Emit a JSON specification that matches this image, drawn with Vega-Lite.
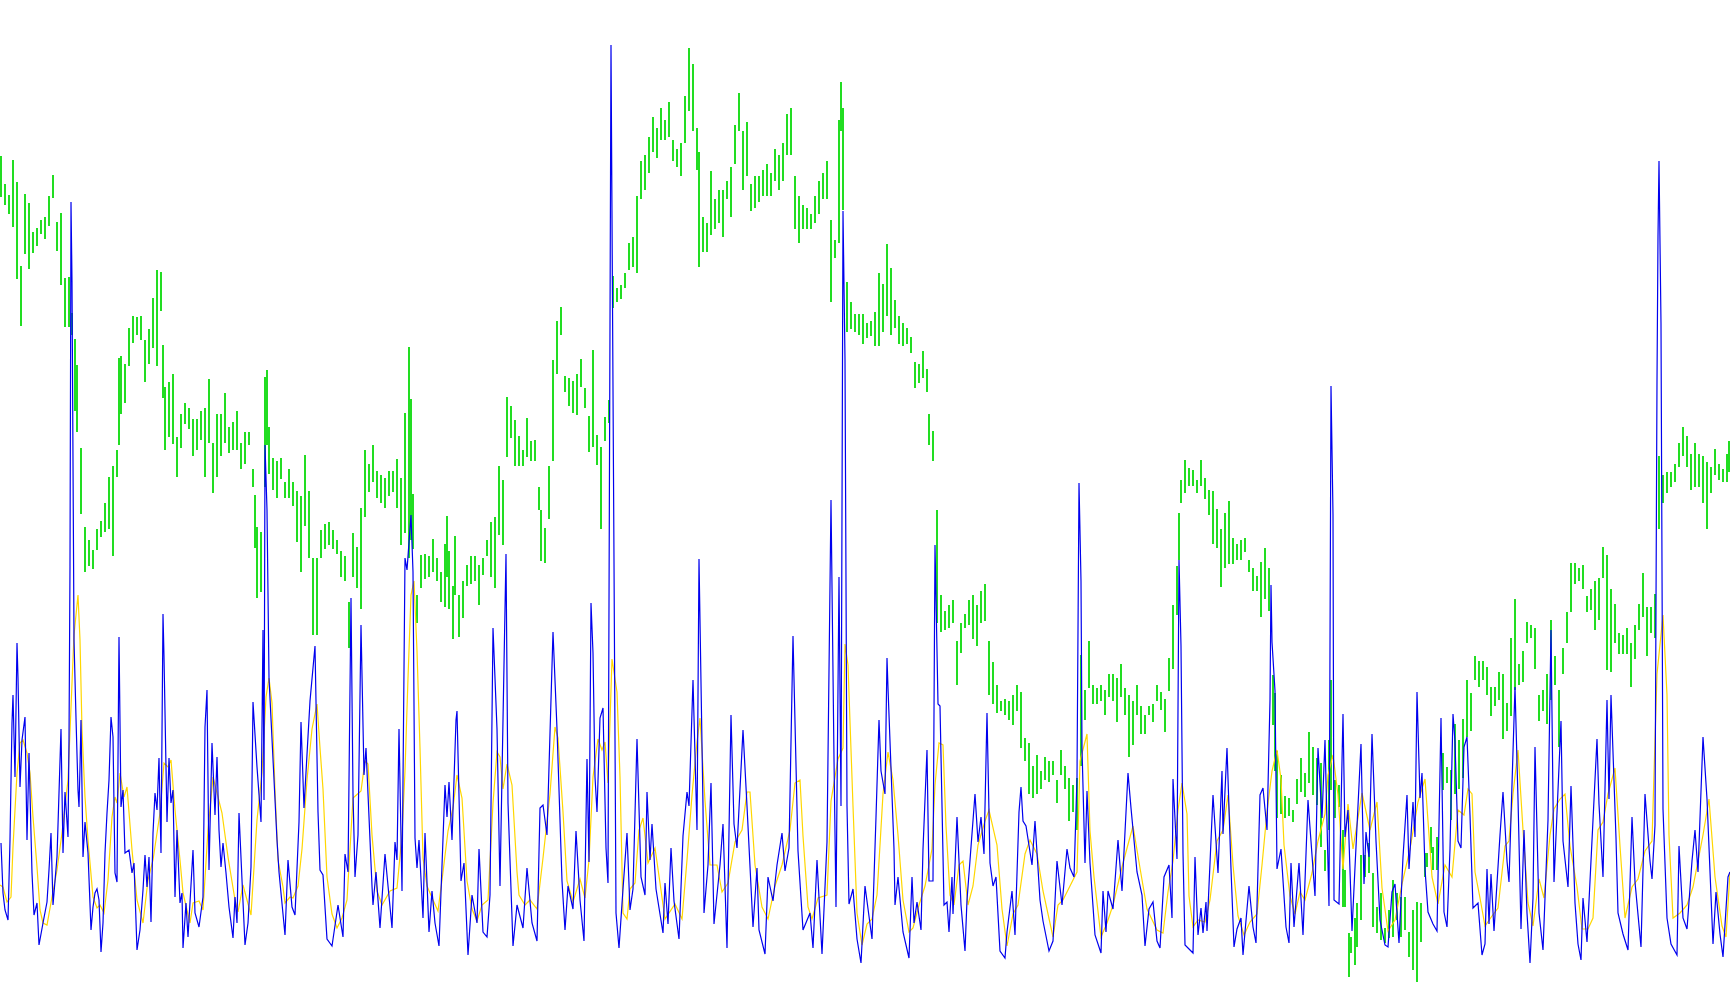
{"$schema":"https://vega.github.io/schema/vega-lite/v6.json","width":1730,"height":1005,"padding":0,"autosize":{"type":"none"},"background":"#ffffff","config":{"view":{"stroke":null}},
"datasets":{"green":[{"x":1,"a":156,"b":197},{"x":5,"a":184,"b":205},{"x":9,"a":195,"b":214},{"x":13,"a":160,"b":227},{"x":17,"a":182,"b":279},{"x":21,"a":266,"b":326},{"x":25,"a":194,"b":254},{"x":29,"a":203,"b":269},{"x":33,"a":232,"b":253},{"x":37,"a":228,"b":246},{"x":41,"a":220,"b":234},{"x":45,"a":217,"b":239},{"x":49,"a":196,"b":226},{"x":53,"a":175,"b":198},{"x":57,"a":222,"b":251},{"x":61,"a":213,"b":285},{"x":65,"a":278,"b":327},{"x":69,"a":277,"b":327},{"x":72,"a":313,"b":335},{"x":75,"a":339,"b":411},{"x":77,"a":365,"b":432},{"x":81,"a":448,"b":514},{"x":85,"a":527,"b":572},{"x":89,"a":540,"b":566},{"x":93,"a":550,"b":569},{"x":97,"a":529,"b":550},{"x":101,"a":521,"b":537},{"x":105,"a":503,"b":532},{"x":109,"a":477,"b":529},{"x":113,"a":466,"b":556},{"x":117,"a":450,"b":477},{"x":119,"a":358,"b":445},{"x":121,"a":356,"b":414},{"x":125,"a":364,"b":403},{"x":129,"a":328,"b":366},{"x":133,"a":316,"b":343},{"x":137,"a":317,"b":335},{"x":141,"a":316,"b":340},{"x":145,"a":340,"b":382},{"x":149,"a":329,"b":364},{"x":153,"a":298,"b":348},{"x":157,"a":270,"b":366},{"x":161,"a":272,"b":311},{"x":163,"a":345,"b":398},{"x":165,"a":387,"b":450},{"x":169,"a":382,"b":437},{"x":173,"a":374,"b":444},{"x":177,"a":437,"b":477},{"x":181,"a":414,"b":448},{"x":185,"a":403,"b":424},{"x":189,"a":408,"b":429},{"x":193,"a":419,"b":456},{"x":197,"a":419,"b":450},{"x":201,"a":411,"b":440},{"x":205,"a":408,"b":477},{"x":209,"a":379,"b":443},{"x":213,"a":443,"b":493},{"x":217,"a":414,"b":477},{"x":221,"a":414,"b":456},{"x":225,"a":393,"b":443},{"x":229,"a":427,"b":453},{"x":233,"a":422,"b":450},{"x":237,"a":411,"b":450},{"x":241,"a":443,"b":469},{"x":245,"a":432,"b":464},{"x":249,"a":432,"b":445},{"x":253,"a":469,"b":487},{"x":255,"a":495,"b":548},{"x":257,"a":527,"b":598},{"x":261,"a":532,"b":592},{"x":265,"a":377,"b":487},{"x":267,"a":370,"b":445},{"x":269,"a":427,"b":474},{"x":273,"a":458,"b":490},{"x":277,"a":461,"b":498},{"x":281,"a":458,"b":479},{"x":285,"a":482,"b":498},{"x":289,"a":469,"b":498},{"x":293,"a":482,"b":506},{"x":297,"a":491,"b":542},{"x":301,"a":496,"b":572},{"x":305,"a":455,"b":526},{"x":309,"a":491,"b":558},{"x":313,"a":558,"b":635},{"x":317,"a":558,"b":635},{"x":321,"a":530,"b":558},{"x":325,"a":524,"b":549},{"x":329,"a":522,"b":545},{"x":333,"a":530,"b":549},{"x":337,"a":540,"b":554},{"x":341,"a":551,"b":577},{"x":345,"a":556,"b":581},{"x":349,"a":602,"b":648},{"x":353,"a":533,"b":577},{"x":357,"a":547,"b":588},{"x":361,"a":508,"b":609},{"x":365,"a":450,"b":517},{"x":369,"a":464,"b":492},{"x":373,"a":445,"b":482},{"x":377,"a":471,"b":498},{"x":381,"a":475,"b":503},{"x":385,"a":478,"b":508},{"x":389,"a":471,"b":496},{"x":393,"a":471,"b":492},{"x":397,"a":459,"b":508},{"x":401,"a":478,"b":545},{"x":405,"a":413,"b":533},{"x":409,"a":347,"b":558},{"x":411,"a":399,"b":540},{"x":413,"a":494,"b":549},{"x":417,"a":595,"b":623},{"x":421,"a":555,"b":588},{"x":425,"a":554,"b":579},{"x":429,"a":556,"b":577},{"x":433,"a":539,"b":572},{"x":437,"a":558,"b":581},{"x":441,"a":572,"b":602},{"x":445,"a":544,"b":607},{"x":447,"a":516,"b":577},{"x":449,"a":551,"b":609},{"x":453,"a":586,"b":639},{"x":455,"a":536,"b":595},{"x":459,"a":595,"b":637},{"x":463,"a":581,"b":618},{"x":467,"a":565,"b":586},{"x":471,"a":556,"b":584},{"x":475,"a":556,"b":581},{"x":479,"a":565,"b":605},{"x":483,"a":558,"b":575},{"x":487,"a":540,"b":556},{"x":491,"a":522,"b":577},{"x":495,"a":517,"b":588},{"x":499,"a":466,"b":535},{"x":503,"a":480,"b":545},{"x":507,"a":397,"b":457},{"x":511,"a":406,"b":438},{"x":515,"a":420,"b":466},{"x":519,"a":436,"b":466},{"x":523,"a":450,"b":466},{"x":527,"a":418,"b":457},{"x":531,"a":441,"b":461},{"x":535,"a":440,"b":461},{"x":539,"a":487,"b":510},{"x":541,"a":510,"b":561},{"x":545,"a":528,"b":563},{"x":549,"a":466,"b":519},{"x":553,"a":360,"b":461},{"x":557,"a":321,"b":374},{"x":561,"a":307,"b":335},{"x":565,"a":376,"b":392},{"x":569,"a":378,"b":406},{"x":573,"a":381,"b":413},{"x":577,"a":374,"b":415},{"x":581,"a":359,"b":387},{"x":585,"a":388,"b":408},{"x":589,"a":416,"b":452},{"x":593,"a":350,"b":447},{"x":597,"a":435,"b":465},{"x":601,"a":447,"b":529},{"x":605,"a":417,"b":441},{"x":609,"a":400,"b":423},{"x":613,"a":276,"b":308},{"x":617,"a":288,"b":302},{"x":621,"a":285,"b":299},{"x":625,"a":273,"b":288},{"x":629,"a":243,"b":270},{"x":633,"a":237,"b":267},{"x":637,"a":196,"b":273},{"x":641,"a":161,"b":199},{"x":645,"a":155,"b":190},{"x":649,"a":137,"b":173},{"x":653,"a":117,"b":152},{"x":657,"a":128,"b":158},{"x":661,"a":108,"b":140},{"x":665,"a":120,"b":140},{"x":669,"a":102,"b":137},{"x":673,"a":140,"b":161},{"x":677,"a":149,"b":167},{"x":681,"a":143,"b":176},{"x":685,"a":96,"b":143},{"x":689,"a":48,"b":111},{"x":693,"a":64,"b":131},{"x":697,"a":128,"b":170},{"x":699,"a":152,"b":267},{"x":703,"a":217,"b":252},{"x":707,"a":223,"b":252},{"x":711,"a":171,"b":235},{"x":715,"a":199,"b":229},{"x":719,"a":190,"b":223},{"x":723,"a":190,"b":237},{"x":727,"a":181,"b":199},{"x":731,"a":167,"b":217},{"x":735,"a":125,"b":164},{"x":739,"a":93,"b":131},{"x":743,"a":131,"b":190},{"x":747,"a":122,"b":176},{"x":751,"a":184,"b":211},{"x":755,"a":176,"b":208},{"x":759,"a":176,"b":202},{"x":763,"a":170,"b":196},{"x":767,"a":164,"b":196},{"x":771,"a":173,"b":196},{"x":775,"a":149,"b":181},{"x":779,"a":155,"b":190},{"x":783,"a":143,"b":181},{"x":787,"a":114,"b":155},{"x":791,"a":108,"b":155},{"x":795,"a":176,"b":229},{"x":799,"a":196,"b":243},{"x":803,"a":205,"b":229},{"x":807,"a":208,"b":229},{"x":811,"a":214,"b":229},{"x":815,"a":196,"b":223},{"x":819,"a":181,"b":214},{"x":823,"a":173,"b":199},{"x":827,"a":161,"b":199},{"x":831,"a":220,"b":302},{"x":835,"a":240,"b":258},{"x":839,"a":120,"b":243},{"x":841,"a":82,"b":131},{"x":843,"a":108,"b":210},{"x":847,"a":282,"b":332},{"x":851,"a":302,"b":329},{"x":855,"a":314,"b":332},{"x":859,"a":314,"b":335},{"x":863,"a":314,"b":344},{"x":867,"a":323,"b":338},{"x":871,"a":321,"b":336},{"x":875,"a":312,"b":346},{"x":879,"a":273,"b":346},{"x":883,"a":284,"b":332},{"x":887,"a":244,"b":316},{"x":891,"a":268,"b":335},{"x":895,"a":300,"b":328},{"x":899,"a":316,"b":344},{"x":903,"a":323,"b":346},{"x":907,"a":328,"b":344},{"x":911,"a":337,"b":353},{"x":915,"a":362,"b":388},{"x":919,"a":364,"b":383},{"x":923,"a":351,"b":378},{"x":927,"a":369,"b":392},{"x":929,"a":414,"b":445},{"x":933,"a":431,"b":461},{"x":937,"a":510,"b":623},{"x":941,"a":595,"b":632},{"x":945,"a":611,"b":630},{"x":949,"a":605,"b":628},{"x":953,"a":600,"b":623},{"x":957,"a":641,"b":685},{"x":961,"a":623,"b":653},{"x":965,"a":614,"b":628},{"x":969,"a":600,"b":625},{"x":973,"a":595,"b":639},{"x":977,"a":605,"b":646},{"x":981,"a":591,"b":623},{"x":985,"a":584,"b":621},{"x":989,"a":641,"b":695},{"x":993,"a":662,"b":704},{"x":997,"a":685,"b":713},{"x":1001,"a":701,"b":711},{"x":1005,"a":699,"b":715},{"x":1009,"a":701,"b":720},{"x":1013,"a":695,"b":725},{"x":1017,"a":685,"b":711},{"x":1021,"a":692,"b":748},{"x":1025,"a":738,"b":761},{"x":1029,"a":743,"b":794},{"x":1033,"a":766,"b":798},{"x":1037,"a":755,"b":794},{"x":1041,"a":771,"b":789},{"x":1045,"a":757,"b":780},{"x":1049,"a":761,"b":782},{"x":1053,"a":761,"b":775},{"x":1057,"a":780,"b":803},{"x":1061,"a":750,"b":775},{"x":1065,"a":766,"b":789},{"x":1069,"a":778,"b":821},{"x":1073,"a":785,"b":812},{"x":1077,"a":778,"b":830},{"x":1081,"a":655,"b":766},{"x":1085,"a":690,"b":720},{"x":1089,"a":641,"b":688},{"x":1093,"a":685,"b":704},{"x":1097,"a":688,"b":704},{"x":1101,"a":685,"b":701},{"x":1105,"a":690,"b":715},{"x":1109,"a":674,"b":697},{"x":1113,"a":674,"b":701},{"x":1117,"a":678,"b":722},{"x":1121,"a":664,"b":697},{"x":1125,"a":688,"b":715},{"x":1129,"a":695,"b":757},{"x":1133,"a":701,"b":745},{"x":1137,"a":685,"b":715},{"x":1141,"a":706,"b":734},{"x":1145,"a":715,"b":734},{"x":1149,"a":706,"b":715},{"x":1153,"a":704,"b":722},{"x":1157,"a":685,"b":701},{"x":1161,"a":692,"b":710},{"x":1165,"a":699,"b":732},{"x":1169,"a":658,"b":691},{"x":1173,"a":605,"b":669},{"x":1177,"a":566,"b":615},{"x":1179,"a":513,"b":560},{"x":1181,"a":480,"b":503},{"x":1185,"a":460,"b":493},{"x":1189,"a":468,"b":486},{"x":1193,"a":470,"b":486},{"x":1197,"a":480,"b":493},{"x":1201,"a":460,"b":486},{"x":1205,"a":478,"b":499},{"x":1209,"a":490,"b":515},{"x":1213,"a":491,"b":544},{"x":1217,"a":509,"b":548},{"x":1221,"a":529,"b":587},{"x":1225,"a":513,"b":568},{"x":1229,"a":501,"b":564},{"x":1233,"a":538,"b":564},{"x":1237,"a":544,"b":560},{"x":1241,"a":540,"b":560},{"x":1245,"a":538,"b":552},{"x":1249,"a":560,"b":572},{"x":1253,"a":568,"b":591},{"x":1257,"a":576,"b":591},{"x":1261,"a":562,"b":617},{"x":1265,"a":548,"b":599},{"x":1269,"a":568,"b":611},{"x":1273,"a":675,"b":725},{"x":1275,"a":693,"b":771},{"x":1277,"a":751,"b":818},{"x":1281,"a":775,"b":814},{"x":1285,"a":796,"b":818},{"x":1289,"a":798,"b":816},{"x":1293,"a":810,"b":822},{"x":1297,"a":779,"b":804},{"x":1301,"a":758,"b":792},{"x":1305,"a":773,"b":797},{"x":1309,"a":732,"b":783},{"x":1313,"a":747,"b":795},{"x":1317,"a":758,"b":805},{"x":1321,"a":763,"b":847},{"x":1325,"a":850,"b":871},{"x":1329,"a":740,"b":830},{"x":1331,"a":680,"b":790},{"x":1335,"a":780,"b":818},{"x":1339,"a":785,"b":807},{"x":1343,"a":830,"b":907},{"x":1345,"a":870,"b":907},{"x":1349,"a":933,"b":977},{"x":1351,"a":937,"b":953},{"x":1355,"a":918,"b":965},{"x":1357,"a":903,"b":947},{"x":1361,"a":855,"b":920},{"x":1365,"a":855,"b":877},{"x":1369,"a":843,"b":873},{"x":1373,"a":873,"b":927},{"x":1377,"a":907,"b":933},{"x":1381,"a":893,"b":940},{"x":1385,"a":928,"b":943},{"x":1389,"a":910,"b":938},{"x":1393,"a":880,"b":937},{"x":1397,"a":893,"b":920},{"x":1401,"a":897,"b":937},{"x":1405,"a":897,"b":930},{"x":1409,"a":932,"b":957},{"x":1413,"a":910,"b":970},{"x":1417,"a":902,"b":982},{"x":1421,"a":903,"b":942},{"x":1425,"a":853,"b":877},{"x":1427,"a":853,"b":867},{"x":1431,"a":827,"b":853},{"x":1433,"a":847,"b":870},{"x":1437,"a":837,"b":870},{"x":1443,"a":753,"b":790},{"x":1447,"a":767,"b":783},{"x":1451,"a":770,"b":820},{"x":1455,"a":724,"b":794},{"x":1459,"a":740,"b":789},{"x":1463,"a":719,"b":778},{"x":1467,"a":680,"b":737},{"x":1471,"a":693,"b":731},{"x":1475,"a":656,"b":680},{"x":1479,"a":661,"b":687},{"x":1483,"a":661,"b":680},{"x":1487,"a":667,"b":695},{"x":1491,"a":687,"b":716},{"x":1495,"a":687,"b":706},{"x":1499,"a":672,"b":700},{"x":1503,"a":674,"b":739},{"x":1507,"a":703,"b":731},{"x":1511,"a":638,"b":716},{"x":1515,"a":599,"b":690},{"x":1519,"a":664,"b":685},{"x":1523,"a":651,"b":682},{"x":1527,"a":622,"b":643},{"x":1531,"a":625,"b":638},{"x":1535,"a":628,"b":669},{"x":1539,"a":695,"b":721},{"x":1543,"a":690,"b":711},{"x":1547,"a":674,"b":724},{"x":1551,"a":620,"b":700},{"x":1555,"a":656,"b":685},{"x":1559,"a":690,"b":747},{"x":1563,"a":648,"b":674},{"x":1567,"a":612,"b":643},{"x":1571,"a":563,"b":612},{"x":1575,"a":563,"b":584},{"x":1579,"a":568,"b":581},{"x":1583,"a":565,"b":589},{"x":1587,"a":596,"b":612},{"x":1591,"a":589,"b":610},{"x":1595,"a":581,"b":630},{"x":1599,"a":578,"b":620},{"x":1603,"a":547,"b":578},{"x":1607,"a":555,"b":670},{"x":1611,"a":589,"b":672},{"x":1615,"a":604,"b":643},{"x":1619,"a":633,"b":654},{"x":1623,"a":635,"b":654},{"x":1627,"a":628,"b":654},{"x":1631,"a":643,"b":687},{"x":1635,"a":625,"b":659},{"x":1639,"a":604,"b":630},{"x":1643,"a":573,"b":617},{"x":1647,"a":607,"b":656},{"x":1651,"a":607,"b":633},{"x":1655,"a":594,"b":638},{"x":1659,"a":456,"b":529},{"x":1663,"a":475,"b":503},{"x":1667,"a":472,"b":493},{"x":1671,"a":472,"b":487},{"x":1675,"a":464,"b":482},{"x":1679,"a":443,"b":467},{"x":1683,"a":427,"b":456},{"x":1687,"a":436,"b":467},{"x":1691,"a":454,"b":490},{"x":1695,"a":443,"b":487},{"x":1699,"a":454,"b":487},{"x":1703,"a":456,"b":503},{"x":1707,"a":462,"b":529},{"x":1711,"a":467,"b":493},{"x":1715,"a":449,"b":475},{"x":1719,"a":464,"b":480},{"x":1723,"a":469,"b":482},{"x":1727,"a":454,"b":482},{"x":1729,"a":441,"b":472}],
"blue":[{"x":1,"y":843},{"x":3,"y":893},{"x":5,"y":910},{"x":8,"y":920},{"x":10,"y":840},{"x":12,"y":723},{"x":13,"y":695},{"x":15,"y":777},{"x":17,"y":643},{"x":18,"y":678},{"x":20,"y":787},{"x":22,"y":740},{"x":25,"y":717},{"x":27,"y":840},{"x":29,"y":753},{"x":32,"y":873},{"x":34,"y":915},{"x":37,"y":903},{"x":39,"y":945},{"x":43,"y":923},{"x":47,"y":902},{"x":49,"y":870},{"x":51,"y":833},{"x":53,"y":905},{"x":57,"y":857},{"x":61,"y":729},{"x":63,"y":853},{"x":65,"y":792},{"x":68,"y":837},{"x":69,"y":740},{"x":70,"y":566},{"x":71,"y":202},{"x":72,"y":281},{"x":74,"y":640},{"x":76,"y":718},{"x":78,"y":790},{"x":79,"y":807},{"x":80,"y":767},{"x":81,"y":720},{"x":83,"y":857},{"x":85,"y":822},{"x":88,"y":853},{"x":91,"y":930},{"x":93,"y":907},{"x":95,"y":893},{"x":97,"y":889},{"x":99,"y":900},{"x":101,"y":952},{"x":103,"y":923},{"x":105,"y":853},{"x":107,"y":813},{"x":109,"y":780},{"x":111,"y":717},{"x":113,"y":737},{"x":115,"y":873},{"x":117,"y":882},{"x":119,"y":637},{"x":121,"y":807},{"x":123,"y":790},{"x":125,"y":853},{"x":129,"y":850},{"x":132,"y":873},{"x":134,"y":863},{"x":137,"y":950},{"x":140,"y":930},{"x":143,"y":890},{"x":145,"y":855},{"x":147,"y":887},{"x":149,"y":857},{"x":151,"y":922},{"x":153,"y":833},{"x":155,"y":793},{"x":157,"y":810},{"x":159,"y":758},{"x":161,"y":853},{"x":163,"y":614},{"x":164,"y":657},{"x":167,"y":822},{"x":169,"y":758},{"x":171,"y":803},{"x":173,"y":790},{"x":175,"y":897},{"x":177,"y":830},{"x":180,"y":903},{"x":182,"y":893},{"x":183,"y":948},{"x":186,"y":903},{"x":188,"y":937},{"x":193,"y":850},{"x":195,"y":913},{"x":199,"y":927},{"x":203,"y":897},{"x":205,"y":727},{"x":207,"y":690},{"x":209,"y":870},{"x":212,"y":743},{"x":215,"y":815},{"x":217,"y":757},{"x":219,"y":830},{"x":221,"y":867},{"x":223,"y":843},{"x":226,"y":873},{"x":229,"y":907},{"x":233,"y":938},{"x":235,"y":897},{"x":237,"y":923},{"x":239,"y":813},{"x":242,"y":880},{"x":245,"y":945},{"x":248,"y":923},{"x":251,"y":867},{"x":253,"y":702},{"x":257,"y":767},{"x":261,"y":822},{"x":263,"y":630},{"x":264,"y":800},{"x":265,"y":445},{"x":267,"y":510},{"x":269,"y":678},{"x":277,"y":840},{"x":279,"y":872},{"x":285,"y":935},{"x":288,"y":860},{"x":292,"y":907},{"x":295,"y":915},{"x":299,"y":822},{"x":301,"y":722},{"x":304,"y":808},{"x":310,"y":701},{"x":315,"y":646},{"x":318,"y":812},{"x":320,"y":870},{"x":323,"y":875},{"x":327,"y":939},{"x":332,"y":946},{"x":338,"y":905},{"x":343,"y":937},{"x":345,"y":854},{"x":348,"y":872},{"x":351,"y":598},{"x":353,"y":794},{"x":355,"y":877},{"x":358,"y":835},{"x":361,"y":625},{"x":364,"y":775},{"x":366,"y":748},{"x":372,"y":886},{"x":373,"y":905},{"x":376,"y":872},{"x":380,"y":928},{"x":385,"y":854},{"x":392,"y":928},{"x":395,"y":842},{"x":397,"y":860},{"x":399,"y":729},{"x":402,"y":891},{"x":405,"y":558},{"x":407,"y":570},{"x":411,"y":515},{"x":413,"y":572},{"x":415,"y":838},{"x":417,"y":868},{"x":419,"y":840},{"x":423,"y":918},{"x":425,"y":833},{"x":429,"y":932},{"x":432,"y":891},{"x":435,"y":923},{"x":439,"y":946},{"x":445,"y":785},{"x":447,"y":817},{"x":449,"y":782},{"x":452,"y":840},{"x":456,"y":720},{"x":457,"y":711},{"x":461,"y":881},{"x":464,"y":863},{"x":468,"y":955},{"x":472,"y":895},{"x":477,"y":923},{"x":479,"y":849},{"x":483,"y":932},{"x":487,"y":937},{"x":490,"y":895},{"x":493,"y":628},{"x":497,"y":729},{"x":500,"y":886},{"x":506,"y":554},{"x":508,"y":803},{"x":513,"y":946},{"x":517,"y":905},{"x":523,"y":928},{"x":527,"y":868},{"x":532,"y":923},{"x":537,"y":941},{"x":540,"y":808},{"x":543,"y":805},{"x":547,"y":835},{"x":553,"y":632},{"x":557,"y":729},{"x":562,"y":881},{"x":565,"y":930},{"x":568,"y":886},{"x":573,"y":909},{"x":576,"y":831},{"x":580,"y":900},{"x":584,"y":941},{"x":587,"y":759},{"x":589,"y":862},{"x":591,"y":603},{"x":593,"y":653},{"x":595,"y":777},{"x":597,"y":812},{"x":600,"y":718},{"x":603,"y":708},{"x":606,"y":848},{"x":608,"y":883},{"x":611,"y":45},{"x":612,"y":217},{"x":614,"y":562},{"x":616,"y":913},{"x":619,"y":948},{"x":623,"y":889},{"x":627,"y":833},{"x":630,"y":910},{"x":633,"y":889},{"x":637,"y":739},{"x":641,"y":877},{"x":645,"y":895},{"x":647,"y":792},{"x":650,"y":860},{"x":652,"y":824},{"x":656,"y":889},{"x":663,"y":933},{"x":665,"y":883},{"x":668,"y":924},{"x":671,"y":848},{"x":674,"y":901},{"x":679,"y":939},{"x":683,"y":836},{"x":687,"y":792},{"x":689,"y":806},{"x":693,"y":680},{"x":697,"y":830},{"x":699,"y":559},{"x":703,"y":806},{"x":704,"y":913},{"x":708,"y":865},{"x":711,"y":783},{"x":714,"y":924},{"x":720,"y":865},{"x":723,"y":824},{"x":727,"y":948},{"x":731,"y":715},{"x":734,"y":824},{"x":737,"y":848},{"x":743,"y":730},{"x":747,"y":806},{"x":753,"y":927},{"x":757,"y":868},{"x":759,"y":930},{"x":765,"y":954},{"x":768,"y":877},{"x":773,"y":901},{"x":777,"y":865},{"x":782,"y":833},{"x":785,"y":871},{"x":789,"y":848},{"x":793,"y":636},{"x":798,"y":851},{"x":803,"y":930},{"x":810,"y":913},{"x":813,"y":948},{"x":817,"y":860},{"x":822,"y":954},{"x":827,"y":842},{"x":831,"y":500},{"x":834,"y":759},{"x":836,"y":907},{"x":839,"y":577},{"x":841,"y":806},{"x":843,"y":211},{"x":845,"y":360},{"x":847,"y":806},{"x":849,"y":904},{"x":853,"y":889},{"x":857,"y":939},{"x":861,"y":963},{"x":865,"y":886},{"x":872,"y":939},{"x":876,"y":817},{"x":879,"y":720},{"x":881,"y":771},{"x":885,"y":794},{"x":887,"y":658},{"x":888,"y":688},{"x":891,"y":768},{"x":894,"y":849},{"x":895,"y":905},{"x":898,"y":877},{"x":903,"y":932},{"x":909,"y":958},{"x":912,"y":877},{"x":914,"y":923},{"x":917,"y":902},{"x":921,"y":930},{"x":923,"y":849},{"x":927,"y":750},{"x":929,"y":881},{"x":933,"y":881},{"x":935,"y":545},{"x":938,"y":704},{"x":940,"y":706},{"x":944,"y":905},{"x":947,"y":902},{"x":949,"y":932},{"x":952,"y":877},{"x":953,"y":914},{"x":957,"y":817},{"x":961,"y":905},{"x":965,"y":951},{"x":967,"y":900},{"x":975,"y":794},{"x":978,"y":842},{"x":981,"y":817},{"x":984,"y":854},{"x":987,"y":713},{"x":990,"y":863},{"x":993,"y":886},{"x":996,"y":877},{"x":1000,"y":951},{"x":1005,"y":958},{"x":1007,"y":932},{"x":1012,"y":891},{"x":1015,"y":935},{"x":1019,"y":812},{"x":1021,"y":787},{"x":1023,"y":821},{"x":1026,"y":826},{"x":1032,"y":865},{"x":1035,"y":821},{"x":1040,"y":900},{"x":1043,"y":921},{"x":1049,"y":951},{"x":1053,"y":941},{"x":1057,"y":861},{"x":1062,"y":905},{"x":1067,"y":849},{"x":1070,"y":868},{"x":1074,"y":877},{"x":1077,"y":778},{"x":1079,"y":483},{"x":1081,"y":581},{"x":1082,"y":748},{"x":1085,"y":863},{"x":1087,"y":791},{"x":1090,"y":863},{"x":1095,"y":935},{"x":1101,"y":953},{"x":1103,"y":891},{"x":1106,"y":932},{"x":1108,"y":891},{"x":1113,"y":909},{"x":1118,"y":840},{"x":1122,"y":891},{"x":1128,"y":773},{"x":1131,"y":808},{"x":1137,"y":872},{"x":1142,"y":895},{"x":1145,"y":946},{"x":1149,"y":909},{"x":1153,"y":902},{"x":1157,"y":941},{"x":1160,"y":948},{"x":1164,"y":877},{"x":1169,"y":865},{"x":1172,"y":918},{"x":1173,"y":779},{"x":1177,"y":859},{"x":1179,"y":560},{"x":1181,"y":646},{"x":1183,"y":853},{"x":1185,"y":945},{"x":1193,"y":953},{"x":1195,"y":857},{"x":1198,"y":935},{"x":1201,"y":908},{"x":1203,"y":933},{"x":1206,"y":902},{"x":1207,"y":931},{"x":1213,"y":795},{"x":1218,"y":873},{"x":1222,"y":771},{"x":1223,"y":834},{"x":1227,"y":748},{"x":1231,"y":869},{"x":1234,"y":947},{"x":1237,"y":929},{"x":1241,"y":918},{"x":1243,"y":955},{"x":1249,"y":886},{"x":1253,"y":927},{"x":1256,"y":943},{"x":1260,"y":795},{"x":1263,"y":788},{"x":1267,"y":830},{"x":1270,"y":700},{"x":1271,"y":585},{"x":1272,"y":642},{"x":1275,"y":691},{"x":1277,"y":869},{"x":1281,"y":849},{"x":1286,"y":927},{"x":1289,"y":943},{"x":1291,"y":863},{"x":1294,"y":927},{"x":1299,"y":863},{"x":1303,"y":935},{"x":1308,"y":800},{"x":1313,"y":869},{"x":1315,"y":896},{"x":1318,"y":748},{"x":1322,"y":818},{"x":1325,"y":740},{"x":1329,"y":906},{"x":1331,"y":386},{"x":1333,"y":515},{"x":1334,"y":900},{"x":1339,"y":904},{"x":1343,"y":714},{"x":1345,"y":837},{"x":1348,"y":810},{"x":1352,"y":931},{"x":1354,"y":888},{"x":1361,"y":744},{"x":1364,"y":884},{"x":1366,"y":832},{"x":1369,"y":857},{"x":1372,"y":734},{"x":1376,"y":841},{"x":1380,"y":920},{"x":1385,"y":945},{"x":1388,"y":947},{"x":1392,"y":892},{"x":1395,"y":884},{"x":1399,"y":943},{"x":1403,"y":857},{"x":1407,"y":795},{"x":1409,"y":869},{"x":1413,"y":802},{"x":1415,"y":837},{"x":1417,"y":692},{"x":1420,"y":798},{"x":1422,"y":773},{"x":1425,"y":869},{"x":1428,"y":912},{"x":1433,"y":924},{"x":1437,"y":931},{"x":1441,"y":718},{"x":1444,"y":912},{"x":1447,"y":927},{"x":1450,"y":849},{"x":1453,"y":714},{"x":1455,"y":742},{"x":1458,"y":841},{"x":1461,"y":848},{"x":1464,"y":747},{"x":1467,"y":737},{"x":1470,"y":815},{"x":1473,"y":908},{"x":1478,"y":903},{"x":1482,"y":955},{"x":1485,"y":944},{"x":1487,"y":869},{"x":1489,"y":924},{"x":1491,"y":874},{"x":1494,"y":931},{"x":1500,"y":835},{"x":1503,"y":792},{"x":1507,"y":861},{"x":1509,"y":882},{"x":1515,"y":687},{"x":1518,"y":799},{"x":1521,"y":929},{"x":1524,"y":830},{"x":1527,"y":913},{"x":1530,"y":963},{"x":1533,"y":898},{"x":1535,"y":747},{"x":1539,"y":913},{"x":1543,"y":950},{"x":1548,"y":820},{"x":1551,"y":630},{"x":1554,"y":882},{"x":1561,"y":721},{"x":1563,"y":841},{"x":1568,"y":887},{"x":1571,"y":786},{"x":1575,"y":903},{"x":1578,"y":944},{"x":1581,"y":960},{"x":1583,"y":898},{"x":1587,"y":942},{"x":1597,"y":739},{"x":1599,"y":804},{"x":1603,"y":877},{"x":1607,"y":700},{"x":1609,"y":799},{"x":1611,"y":695},{"x":1616,"y":838},{"x":1618,"y":913},{"x":1623,"y":934},{"x":1628,"y":950},{"x":1632,"y":817},{"x":1635,"y":882},{"x":1641,"y":947},{"x":1645,"y":794},{"x":1650,"y":861},{"x":1652,"y":879},{"x":1655,"y":825},{"x":1657,"y":381},{"x":1658,"y":236},{"x":1659,"y":161},{"x":1661,"y":324},{"x":1663,"y":809},{"x":1667,"y":918},{"x":1671,"y":944},{"x":1677,"y":955},{"x":1679,"y":846},{"x":1683,"y":918},{"x":1687,"y":929},{"x":1692,"y":861},{"x":1695,"y":830},{"x":1698,"y":872},{"x":1703,"y":737},{"x":1707,"y":799},{"x":1713,"y":944},{"x":1716,"y":892},{"x":1720,"y":934},{"x":1723,"y":957},{"x":1728,"y":877},{"x":1730,"y":872}],
"gold":[{"x":0,"y":885},{"x":3,"y":887},{"x":7,"y":902},{"x":11,"y":897},{"x":13,"y":847},{"x":17,"y":773},{"x":20,"y":743},{"x":23,"y":740},{"x":27,"y":753},{"x":30,"y":773},{"x":33,"y":817},{"x":37,"y":867},{"x":40,"y":910},{"x":43,"y":923},{"x":47,"y":925},{"x":52,"y":897},{"x":57,"y":870},{"x":62,"y":833},{"x":68,"y":780},{"x":72,"y":683},{"x":74,"y":635},{"x":78,"y":595},{"x":80,"y":640},{"x":82,"y":730},{"x":85,"y":797},{"x":88,"y":840},{"x":93,"y":897},{"x":97,"y":908},{"x":100,"y":905},{"x":104,"y":913},{"x":108,"y":880},{"x":112,"y":817},{"x":115,"y":797},{"x":117,"y":803},{"x":120,"y":773},{"x":124,"y":797},{"x":127,"y":787},{"x":132,"y":850},{"x":137,"y":900},{"x":143,"y":923},{"x":148,"y":880},{"x":153,"y":860},{"x":160,"y":813},{"x":164,"y":763},{"x":168,"y":767},{"x":171,"y":760},{"x":175,"y":810},{"x":180,"y":860},{"x":183,"y":893},{"x":190,"y":923},{"x":193,"y":903},{"x":199,"y":901},{"x":203,"y":910},{"x":208,"y":830},{"x":213,"y":777},{"x":222,"y":813},{"x":228,"y":857},{"x":235,"y":900},{"x":238,"y":912},{"x":243,"y":885},{"x":251,"y":915},{"x":257,"y":820},{"x":262,"y":773},{"x":266,"y":697},{"x":269,"y":678},{"x":272,"y":703},{"x":275,"y":790},{"x":278,"y":860},{"x":283,"y":887},{"x":285,"y":903},{"x":290,"y":897},{"x":293,"y":898},{"x":298,"y":886},{"x":302,"y":849},{"x":307,"y":780},{"x":312,"y":729},{"x":317,"y":704},{"x":320,"y":748},{"x":323,"y":789},{"x":327,"y":877},{"x":332,"y":914},{"x":337,"y":928},{"x":342,"y":918},{"x":347,"y":900},{"x":350,"y":849},{"x":353,"y":798},{"x":361,"y":791},{"x":365,"y":761},{"x":368,"y":764},{"x":372,"y":835},{"x":377,"y":891},{"x":382,"y":905},{"x":390,"y":891},{"x":397,"y":888},{"x":402,"y":835},{"x":405,"y":771},{"x":408,"y":678},{"x":411,"y":595},{"x":414,"y":581},{"x":417,"y":651},{"x":420,"y":748},{"x":423,"y":858},{"x":427,"y":886},{"x":433,"y":900},{"x":438,"y":911},{"x":443,"y":872},{"x":448,"y":831},{"x":453,"y":808},{"x":457,"y":775},{"x":462,"y":798},{"x":467,"y":881},{"x":472,"y":909},{"x":477,"y":921},{"x":482,"y":905},{"x":488,"y":900},{"x":493,"y":803},{"x":497,"y":752},{"x":500,"y":757},{"x":503,"y":789},{"x":507,"y":764},{"x":512,"y":785},{"x":517,"y":872},{"x":519,"y":895},{"x":525,"y":905},{"x":530,"y":900},{"x":537,"y":909},{"x":543,"y":858},{"x":550,"y":794},{"x":555,"y":727},{"x":558,"y":738},{"x":563,"y":812},{"x":567,"y":881},{"x":573,"y":902},{"x":580,"y":879},{"x":585,"y":898},{"x":589,"y":860},{"x":593,"y":777},{"x":598,"y":739},{"x":602,"y":750},{"x":605,"y":742},{"x":608,"y":783},{"x":612,"y":659},{"x":617,"y":692},{"x":620,"y":777},{"x":623,"y":913},{"x":627,"y":919},{"x":630,"y":889},{"x":635,"y":883},{"x":639,"y":830},{"x":643,"y":818},{"x":648,"y":863},{"x":655,"y":848},{"x":660,"y":883},{"x":665,"y":919},{"x":675,"y":904},{"x":682,"y":919},{"x":687,"y":860},{"x":692,"y":795},{"x":697,"y":742},{"x":700,"y":718},{"x":705,"y":801},{"x":710,"y":865},{"x":717,"y":865},{"x":722,"y":892},{"x":728,"y":883},{"x":735,"y":842},{"x":742,"y":830},{"x":747,"y":792},{"x":750,"y":792},{"x":755,"y":865},{"x":762,"y":907},{"x":768,"y":919},{"x":775,"y":886},{"x":782,"y":865},{"x":790,"y":830},{"x":795,"y":783},{"x":800,"y":780},{"x":803,"y":836},{"x":808,"y":907},{"x":812,"y":919},{"x":818,"y":898},{"x":827,"y":895},{"x":831,"y":801},{"x":838,"y":759},{"x":843,"y":748},{"x":845,"y":644},{"x":848,"y":665},{"x":853,"y":806},{"x":857,"y":913},{"x":862,"y":945},{"x":867,"y":924},{"x":872,"y":919},{"x":877,"y":895},{"x":880,"y":845},{"x":883,"y":794},{"x":888,"y":752},{"x":893,"y":780},{"x":898,"y":835},{"x":903,"y":900},{"x":909,"y":932},{"x":913,"y":928},{"x":919,"y":905},{"x":925,"y":886},{"x":932,"y":849},{"x":935,"y":785},{"x":939,"y":743},{"x":943,"y":745},{"x":946,"y":826},{"x":950,"y":895},{"x":954,"y":905},{"x":959,"y":865},{"x":963,"y":861},{"x":968,"y":905},{"x":973,"y":886},{"x":978,"y":845},{"x":985,"y":821},{"x":989,"y":810},{"x":997,"y":845},{"x":1002,"y":909},{"x":1007,"y":946},{"x":1013,"y":914},{"x":1018,"y":905},{"x":1025,"y":854},{"x":1030,"y":840},{"x":1037,"y":854},{"x":1043,"y":891},{"x":1053,"y":937},{"x":1058,"y":905},{"x":1063,"y":900},{"x":1070,"y":886},{"x":1077,"y":872},{"x":1080,"y":761},{"x":1087,"y":734},{"x":1090,"y":831},{"x":1094,"y":877},{"x":1101,"y":937},{"x":1107,"y":923},{"x":1113,"y":905},{"x":1123,"y":863},{"x":1133,"y":826},{"x":1140,"y":868},{"x":1147,"y":909},{"x":1157,"y":930},{"x":1163,"y":933},{"x":1168,"y":892},{"x":1173,"y":861},{"x":1178,"y":810},{"x":1182,"y":783},{"x":1187,"y":814},{"x":1189,"y":896},{"x":1193,"y":927},{"x":1198,"y":920},{"x":1205,"y":922},{"x":1210,"y":900},{"x":1217,"y":841},{"x":1223,"y":830},{"x":1228,"y":795},{"x":1233,"y":865},{"x":1238,"y":916},{"x":1244,"y":935},{"x":1250,"y":922},{"x":1257,"y":914},{"x":1262,"y":865},{"x":1267,"y":812},{"x":1272,"y":771},{"x":1277,"y":750},{"x":1281,"y":779},{"x":1284,"y":845},{"x":1290,"y":896},{"x":1295,"y":914},{"x":1300,"y":892},{"x":1305,"y":900},{"x":1312,"y":873},{"x":1318,"y":841},{"x":1325,"y":814},{"x":1328,"y":775},{"x":1333,"y":755},{"x":1338,"y":795},{"x":1343,"y":869},{"x":1348,"y":804},{"x":1353,"y":849},{"x":1362,"y":793},{"x":1370,"y":830},{"x":1377,"y":802},{"x":1382,"y":888},{"x":1388,"y":931},{"x":1395,"y":920},{"x":1402,"y":884},{"x":1410,"y":849},{"x":1418,"y":802},{"x":1425,"y":779},{"x":1432,"y":877},{"x":1438,"y":904},{"x":1445,"y":865},{"x":1452,"y":877},{"x":1458,"y":810},{"x":1464,"y":815},{"x":1468,"y":789},{"x":1472,"y":794},{"x":1475,"y":872},{"x":1480,"y":898},{"x":1485,"y":926},{"x":1492,"y":916},{"x":1498,"y":908},{"x":1505,"y":846},{"x":1509,"y":841},{"x":1513,"y":794},{"x":1518,"y":750},{"x":1523,"y":830},{"x":1528,"y":903},{"x":1533,"y":926},{"x":1539,"y":879},{"x":1544,"y":898},{"x":1550,"y":835},{"x":1554,"y":809},{"x":1560,"y":799},{"x":1565,"y":794},{"x":1570,"y":846},{"x":1577,"y":887},{"x":1582,"y":929},{"x":1588,"y":929},{"x":1593,"y":918},{"x":1598,"y":830},{"x":1603,"y":822},{"x":1608,"y":794},{"x":1615,"y":768},{"x":1620,"y":846},{"x":1625,"y":918},{"x":1632,"y":887},{"x":1638,"y":879},{"x":1645,"y":851},{"x":1652,"y":841},{"x":1657,"y":674},{"x":1663,"y":615},{"x":1667,"y":695},{"x":1669,"y":835},{"x":1673,"y":918},{"x":1680,"y":913},{"x":1687,"y":905},{"x":1693,"y":887},{"x":1703,"y":835},{"x":1709,"y":799},{"x":1715,"y":877},{"x":1722,"y":926},{"x":1726,"y":937},{"x":1730,"y":872}]},
"layer":[
{"data":{"name":"green"},"mark":{"type":"rule","color":"#22dd22","strokeWidth":2},"encoding":{"x":{"field":"x","type":"quantitative","scale":{"domain":[0,1730]},"axis":null},"y":{"field":"a","type":"quantitative","scale":{"domain":[1005,0]},"axis":null},"y2":{"field":"b"}}},
{"data":{"name":"gold"},"mark":{"type":"line","color":"#ffd700","strokeWidth":1.2},"encoding":{"x":{"field":"x","type":"quantitative","scale":{"domain":[0,1730]},"axis":null},"y":{"field":"y","type":"quantitative","scale":{"domain":[1005,0]},"axis":null}}},
{"data":{"name":"blue"},"mark":{"type":"line","color":"#0000ee","strokeWidth":1.2},"encoding":{"x":{"field":"x","type":"quantitative","scale":{"domain":[0,1730]},"axis":null},"y":{"field":"y","type":"quantitative","scale":{"domain":[1005,0]},"axis":null}}}
]}
